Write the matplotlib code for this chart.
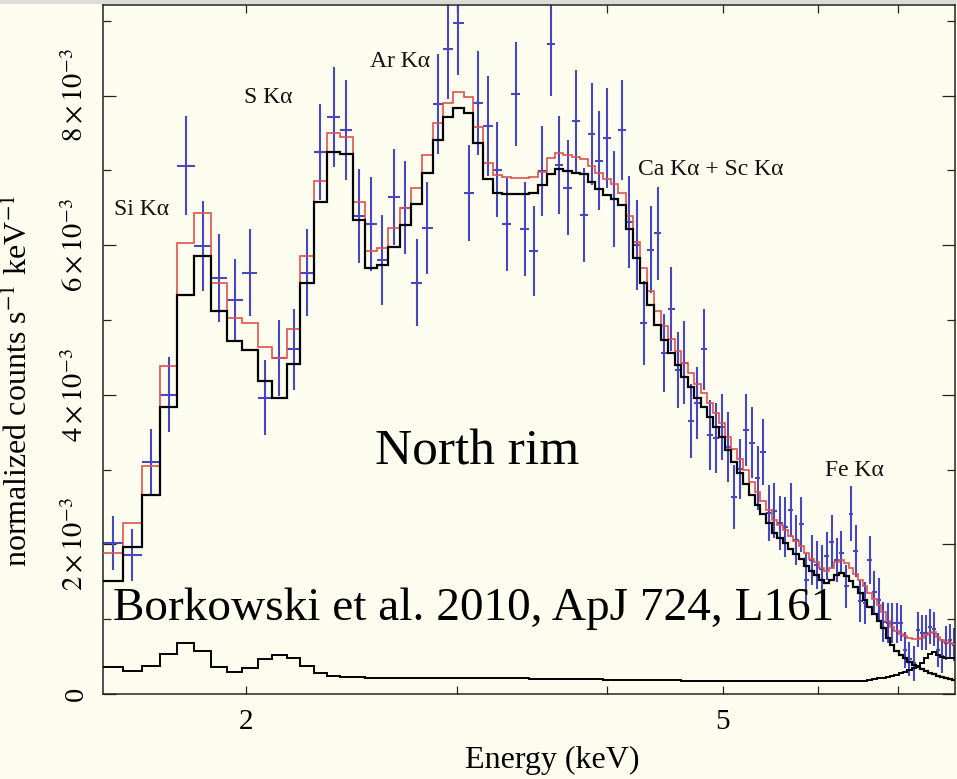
import numpy as np
import matplotlib
matplotlib.use("Agg")
import matplotlib.pyplot as plt
from matplotlib.ticker import NullFormatter
from matplotlib.patches import Rectangle

plt.rcParams['font.family'] = 'serif'
plt.rcParams['font.serif'] = ['Liberation Serif', 'DejaVu Serif']
plt.rcParams['mathtext.fontset'] = 'stix'

# channel centres (keV), grouped bins of constant width
energy = np.array([
    1.549, 1.608, 1.666, 1.724, 1.783, 1.841, 1.900, 1.958, 2.016, 2.075,
    2.133, 2.192, 2.250, 2.308, 2.367, 2.425, 2.484, 2.542, 2.600, 2.659,
    2.717, 2.776, 2.834, 2.892, 2.951, 3.009, 3.068, 3.126, 3.184, 3.243,
    3.301, 3.360, 3.418, 3.476, 3.535, 3.593, 3.652, 3.710, 3.768, 3.827,
    3.885, 3.944, 4.002, 4.060, 4.119, 4.177, 4.236, 4.294, 4.352, 4.411,
    4.469, 4.528, 4.586, 4.644, 4.703, 4.761, 4.820, 4.878, 4.936, 4.995,
    5.053, 5.112, 5.170, 5.228, 5.287, 5.345, 5.404, 5.462, 5.520, 5.579,
    5.637, 5.696, 5.754, 5.812, 5.871, 5.929, 5.988, 6.046, 6.104, 6.163,
    6.221, 6.280, 6.338, 6.396, 6.455, 6.513, 6.572, 6.630, 6.688, 6.747,
    6.805, 6.864, 6.922, 6.980, 7.039, 7.097, 7.156, 7.214, 7.272, 7.331,
    7.389, 7.448, 7.506, 7.564, 7.623, 7.681, 7.740, 7.798])
half_w = 0.0292

# observed rate and 1-sigma errors (1e-3 counts/s/keV)
rate = np.array([
    2.02, 1.86, 3.10, 4.00, 7.06, 5.99, 5.56, 5.27, 5.63, 3.96,
    4.49, 4.61, 5.63, 7.25, 7.71, 7.54, 6.39, 6.28, 5.80, 6.64,
    6.50, 5.50, 6.23, 7.89, 8.62, 8.97, 6.70, 7.90, 7.59, 7.01,
    6.28, 8.02, 6.22, 5.92, 6.99, 8.69, 7.07, 6.77, 7.66, 6.40,
    7.49, 7.13, 7.43, 6.62, 7.54, 6.31, 6.00, 4.96, 5.94, 6.16,
    4.56, 5.15, 4.33, 4.43, 3.65, 3.89, 4.61, 3.46, 3.42, 3.57,
    3.30, 2.63, 3.01, 3.53, 3.36, 2.89, 3.24, 2.42, 2.45, 2.29,
    2.23, 2.46, 2.06, 2.27, 1.52, 1.79, 1.73, 1.67, 1.85, 2.03,
    1.79, 1.89, 1.44, 2.41, 1.91, 1.24, 1.22, 1.79, 1.36, 1.26,
    0.96, 0.95, 0.95, 0.95, 0.95, 0.59, 0.47, 0.41, 0.86, 0.82,
    0.82, 0.90, 0.87, 0.59, 0.51, 0.68, 0.72, 0.66]) * 1e-3
rate_err = np.array([
    0.36, 0.35, 0.44, 0.50, 0.66, 0.60, 0.59, 0.55, 0.58, 0.50,
    0.51, 0.54, 0.58, 0.64, 0.67, 0.67, 0.63, 0.63, 0.60, 0.64,
    0.62, 0.58, 0.62, 0.67, 0.67, 0.70, 0.64, 0.70, 0.67, 0.64,
    0.62, 0.70, 0.63, 0.60, 0.60, 0.70, 0.66, 0.64, 0.68, 0.63,
    0.68, 0.66, 0.67, 0.64, 0.67, 0.62, 0.60, 0.56, 0.58, 0.62,
    0.52, 0.56, 0.51, 0.55, 0.50, 0.48, 0.54, 0.47, 0.47, 0.44,
    0.47, 0.43, 0.40, 0.48, 0.47, 0.43, 0.44, 0.37, 0.37, 0.36,
    0.40, 0.36, 0.33, 0.37, 0.36, 0.33, 0.32, 0.32, 0.32, 0.36,
    0.29, 0.29, 0.29, 0.37, 0.35, 0.28, 0.28, 0.32, 0.29, 0.29,
    0.27, 0.27, 0.27, 0.27, 0.24, 0.24, 0.23, 0.23, 0.23, 0.23,
    0.23, 0.23, 0.23, 0.23, 0.23, 0.23, 0.22, 0.22]) * 1e-3

# total model (red)
model_total = np.array([
    1.89, 2.29, 3.05, 4.39, 6.03, 6.43, 5.50, 5.03, 4.96, 4.64,
    4.49, 4.88, 5.86, 6.86, 7.50, 7.45, 6.58, 5.92, 5.96, 6.23,
    6.50, 6.77, 7.21, 7.63, 7.90, 8.05, 7.98, 7.58, 7.10, 6.94,
    6.91, 6.90, 6.90, 6.91, 6.98, 7.17, 7.23, 7.21, 7.18, 7.15,
    7.06, 6.97, 6.89, 6.82, 6.70, 6.39, 6.04, 5.69, 5.39, 5.12,
    4.92, 4.75, 4.59, 4.42, 4.29, 4.14, 4.02, 3.89, 3.75, 3.62,
    3.44, 3.28, 3.14, 2.99, 2.84, 2.70, 2.58, 2.46, 2.33, 2.26,
    2.19, 2.11, 2.04, 1.98, 1.88, 1.81, 1.76, 1.69, 1.65, 1.69,
    1.76, 1.79, 1.75, 1.68, 1.60, 1.53, 1.44, 1.35, 1.27, 1.19,
    1.10, 0.98, 0.90, 0.84, 0.80, 0.78, 0.75, 0.74, 0.74, 0.75,
    0.79, 0.82, 0.83, 0.76, 0.72, 0.69, 0.68, 0.67]) * 1e-3

# main emission component (black, upper)
model_main = np.array([
    1.51, 1.97, 2.66, 3.84, 5.33, 5.86, 5.12, 4.72, 4.60, 4.18,
    3.96, 4.41, 5.50, 6.58, 7.25, 7.22, 6.34, 5.70, 5.74, 5.98,
    6.27, 6.55, 6.97, 7.41, 7.71, 7.83, 7.77, 7.37, 6.89, 6.70,
    6.69, 6.68, 6.68, 6.70, 6.81, 6.95, 7.02, 6.99, 6.97, 6.95,
    6.85, 6.75, 6.67, 6.62, 6.54, 6.22, 5.83, 5.50, 5.20, 4.93,
    4.73, 4.56, 4.40, 4.24, 4.10, 3.96, 3.84, 3.70, 3.57, 3.44,
    3.26, 3.10, 2.96, 2.81, 2.66, 2.53, 2.41, 2.29, 2.15, 2.09,
    2.02, 1.94, 1.87, 1.81, 1.71, 1.64, 1.59, 1.52, 1.48, 1.52,
    1.59, 1.62, 1.58, 1.51, 1.43, 1.35, 1.26, 1.16, 1.07, 0.98,
    0.88, 0.75, 0.66, 0.58, 0.52, 0.48, 0.43, 0.39, 0.36, 0.33,
    0.31, 0.28, 0.27, 0.24, 0.23, 0.21, 0.20, 0.19]) * 1e-3

# second component (black, lower)
model_second = np.array([
    0.36, 0.31, 0.37, 0.54, 0.68, 0.58, 0.36, 0.29, 0.35, 0.47,
    0.52, 0.48, 0.37, 0.28, 0.24, 0.23, 0.23, 0.22, 0.22, 0.22,
    0.22, 0.22, 0.21, 0.21, 0.21, 0.21, 0.21, 0.21, 0.21, 0.21,
    0.21, 0.21, 0.21, 0.20, 0.20, 0.20, 0.20, 0.20, 0.20, 0.20,
    0.20, 0.20, 0.19, 0.19, 0.19, 0.19, 0.19, 0.19, 0.19, 0.19,
    0.19, 0.19, 0.19, 0.18, 0.18, 0.18, 0.18, 0.18, 0.18, 0.18,
    0.18, 0.18, 0.18, 0.18, 0.18, 0.18, 0.18, 0.17, 0.17, 0.17,
    0.17, 0.17, 0.17, 0.17, 0.17, 0.17, 0.17, 0.17, 0.17, 0.17,
    0.17, 0.17, 0.17, 0.17, 0.17, 0.175, 0.18, 0.19, 0.20, 0.21,
    0.22, 0.23, 0.24, 0.26, 0.28, 0.30, 0.32, 0.35, 0.38, 0.42,
    0.48, 0.54, 0.56, 0.52, 0.49, 0.48, 0.48, 0.48]) * 1e-3

# line identifications: (label, energy keV, height)
line_labels = ["Si K\u03b1", "S K\u03b1", "Ar K\u03b1",
               "Ca K\u03b1 + Sc K\u03b1", "Fe K\u03b1"]
line_e = [1.637, 2.086, 2.689, 4.886, 6.443]
line_y = [6.47e-3, 7.98e-3, 8.46e-3, 7.01e-3, 2.99e-3]

bg = '#fdfdef'
edges = np.append(energy - half_w, energy[-1] + half_w)

fig = plt.figure(figsize=(9.57, 7.79), dpi=100, facecolor=bg)
ax = fig.add_axes([103/957, 85/779, 852/957, 689/779])
ax.set_facecolor(bg)

ax.errorbar(energy, rate, yerr=rate_err, xerr=half_w, fmt='none',
            ecolor='#4747bf', elinewidth=1.5, capsize=0, zorder=2)
ax.stairs(model_total, edges, baseline=None, color='#e0534d', lw=1.2, zorder=3)
ax.stairs(model_main, edges, baseline=None, color='black', lw=1.6, zorder=4)
ax.stairs(model_second, edges, baseline=None, color='black', lw=1.4, zorder=4)

ax.set_xscale('log')
ax.set_xlim(1.52, 7.81)
ax.set_ylim(0, 9.21e-3)

ax.set_xticks([2, 5])
ax.set_xticklabels(['2', '5'])
ax.set_xticks([3, 4, 6, 7], minor=True)
ax.xaxis.set_minor_formatter(NullFormatter())

yt = [0, 2e-3, 4e-3, 6e-3, 8e-3]
ax.set_yticks(yt)
ax.set_yticklabels(['0', r'$2\times10^{-3}$', r'$4\times10^{-3}$',
                    r'$6\times10^{-3}$', r'$8\times10^{-3}$'])
ax.set_yticks([1e-3, 3e-3, 5e-3, 7e-3, 9e-3], minor=True)

ax.tick_params(which='both', direction='in', top=True, right=True,
               width=0.9, color='#222222')
ax.tick_params(axis='x', which='both', length=5.5, labelsize=21, pad=11)
ax.tick_params(axis='y', which='major', length=9.5, labelsize=20.5,
               labelrotation=90, pad=10)
ax.tick_params(axis='y', which='minor', length=5.5)
for t in ax.get_yticklabels():
    t.set_va('center')
for s in ax.spines.values():
    s.set_linewidth(1.1)
    s.set_color('#222222')

ax.set_xlabel('Energy (keV)', fontsize=23)
ax.xaxis.set_label_coords(0.527, -0.097)
ax.xaxis.label.set_va('center')
ax.set_ylabel(r'normalized counts s$^{-1}$ keV$^{-1}$', fontsize=23)
ax.yaxis.set_label_coords(-0.099, 0.454)
ax.yaxis.label.set_va('center')

for lab, e, y in zip(line_labels, line_e, line_y):
    ax.text(e, y, lab, fontsize=17, ha='center', va='center', color='#111111')

ax.text(0.439, 0.351, 'North rim', transform=ax.transAxes, fontsize=37,
        ha='center', va='center')
ax.text(0.0117, 0.107, 'Borkowski et al. 2010, ApJ 724, L161',
        transform=ax.transAxes, fontsize=34, ha='left', va='baseline')

fig.add_artist(Rectangle((0, 1 - 4/779), 1, 4/779, transform=fig.transFigure,
                         color='#dcdcd6', lw=0))

fig.savefig('out.png', dpi=100, facecolor=bg)
